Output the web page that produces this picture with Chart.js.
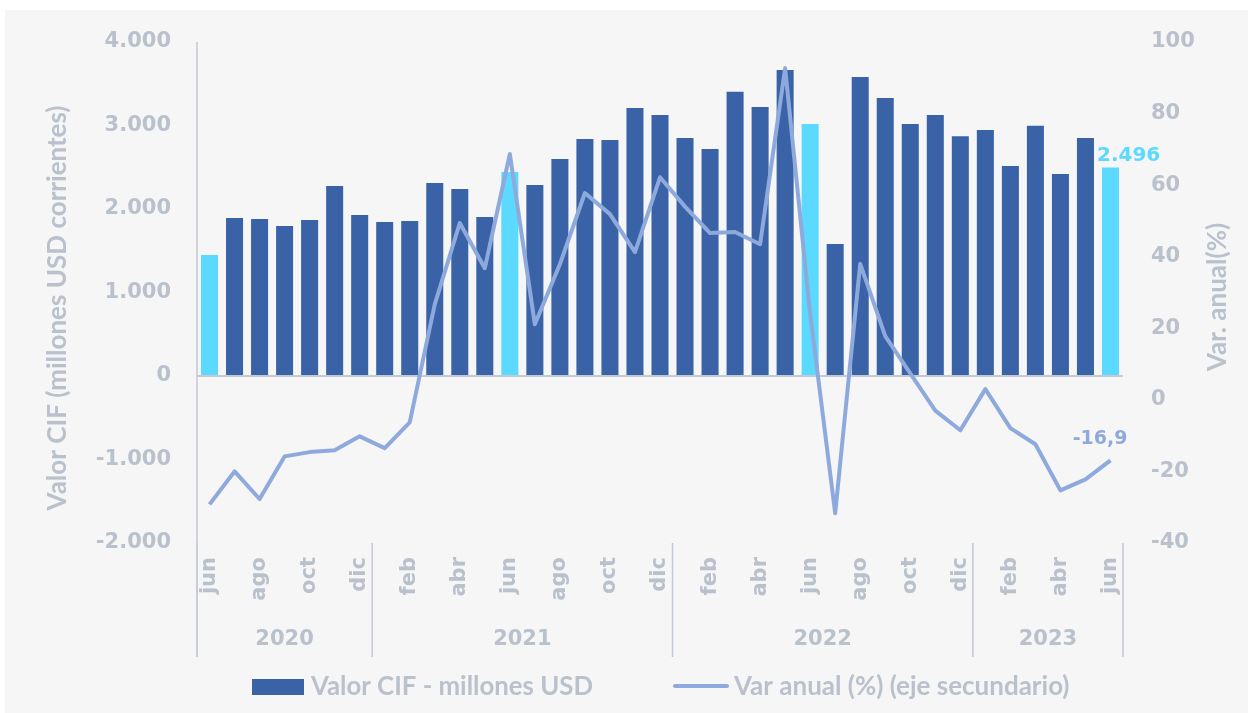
<!DOCTYPE html>
<html>
<head>
<meta charset="utf-8">
<script src="https://cdn.jsdelivr.net/npm/chart.js@4.4.0/dist/chart.umd.min.js"></script>
<style>
  body { margin: 0; background: #ffffff; }
  canvas { display: block; }
</style>
</head>
<body>
<canvas id="chart" width="1248" height="713"></canvas>
<script>
// Datos: jun 2020 - jun 2023
const months = [
  'jun', 'jul', 'ago', 'sep', 'oct', 'nov', 'dic',
  'ene', 'feb', 'mar', 'abr', 'may', 'jun', 'jul', 'ago', 'sep', 'oct', 'nov', 'dic',
  'ene', 'feb', 'mar', 'abr', 'may', 'jun', 'jul', 'ago', 'sep', 'oct', 'nov', 'dic',
  'ene', 'feb', 'mar', 'abr', 'may', 'jun'
];
const years = ['2020', '2021', '2022', '2023'];
const yearFirstIndex = [0, 7, 19, 31];

const valorCIF = [
  1450, 1892, 1880, 1796, 1868, 2275, 1928,
  1844, 1856, 2311, 2240, 1904, 2443, 2287, 2599, 2838, 2826, 3210, 3126,
  2850, 2719, 3405, 3222, 3665, 3018, 1581, 3581, 3329, 3018, 3126, 2870,
  2946, 2515, 2998, 2419, 2850, 2496
];
const varAnual = [
  -29.2, -20.0, -27.7, -15.8, -14.6, -14.1, -10.2,
  -13.5, -6.3, 26.7, 49.4, 36.8, 68.7, 21.1, 37.9, 57.8, 51.9, 41.3, 62.2,
  54.0, 46.6, 46.9, 43.5, 92.7, 24.0, -31.7, 38.0, 17.8, 7.4, -3.0, -8.5,
  3.0, -7.9, -12.4, -25.3, -22.2, -16.9
];

const DARK = '#3a62a7';
const LIGHT = '#5bd9fe';
const LINE = '#8eaadd';
const GREY = '#b9c1cc';
const AXIS = '#c3cad4';

const barColors = months.map(m => m === 'jun' ? LIGHT : DARK);

function fmtMiles(v) {
  const s = Math.abs(v).toString().replace(/\B(?=(\d{3})+(?!\d))/g, '.');
  return (v < 0 ? '-' : '') + s;
}

const extras = {
  id: 'extras',
  beforeDraw(chart) {
    const ctx = chart.ctx;
    ctx.save();
    ctx.fillStyle = '#f6f6f6';
    ctx.fillRect(5, 10, chart.width - 5, chart.height - 10);
    ctx.restore();
  },
  afterDraw(chart) {
    const ctx = chart.ctx;
    const area = chart.chartArea;
    const x = chart.scales.x;
    const bottom = 657;
    ctx.save();

    // eje izquierdo
    ctx.strokeStyle = AXIS;
    ctx.lineWidth = 1.5;
    ctx.beginPath();
    ctx.moveTo(area.left, area.top);
    ctx.lineTo(area.left, bottom);
    ctx.stroke();

    // separadores de años y etiquetas
    const edges = yearFirstIndex.map(i => i === 0 ? area.left
      : (x.getPixelForValue(i - 1) + x.getPixelForValue(i)) / 2);
    edges.push(area.right);
    ctx.beginPath();
    edges.forEach(e => { ctx.moveTo(e, area.bottom); ctx.lineTo(e, bottom); });
    ctx.stroke();

    ctx.fillStyle = GREY;
    ctx.font = 'bold 21px "DejaVu Sans"';
    ctx.textAlign = 'center';
    ctx.textBaseline = 'middle';
    years.forEach((y, i) => {
      ctx.fillText(y, (edges[i] + edges[i + 1]) / 2, 640);
    });

    // títulos de ejes
    ctx.font = 'bold 26px Lato';
    ctx.save();
    ctx.translate(58, 308);
    ctx.rotate(-Math.PI / 2);
    ctx.fillText('Valor CIF (millones USD corrientes)', 0, 0, 412);
    ctx.restore();
    ctx.save();
    ctx.translate(1218, 297);
    ctx.rotate(-Math.PI / 2);
    ctx.fillText('Var. anual(%)', 0, 0, 164);
    ctx.restore();

    // etiquetas de datos del último mes
    const last = months.length - 1;
    const bar = chart.getDatasetMeta(0).data[last];
    ctx.font = 'bold 20px "DejaVu Sans"';
    ctx.fillStyle = LIGHT;
    ctx.textAlign = 'left';
    ctx.fillText(fmtMiles(valorCIF[last]), bar.x - bar.width / 2 - 5, bar.y - 12);
    const pt = chart.getDatasetMeta(1).data[last];
    ctx.font = 'bold 19px "DejaVu Sans"';
    ctx.fillStyle = LINE;
    ctx.textAlign = 'right';
    ctx.fillText(varAnual[last].toFixed(1).replace('.', ','), pt.x + 17, pt.y - 21);

    // leyenda
    const ds = chart.data.datasets;
    ctx.font = 'bold 26px Lato';
    ctx.fillStyle = DARK;
    ctx.fillRect(252, 679, 52, 16);
    ctx.fillStyle = GREY;
    ctx.textAlign = 'left';
    ctx.fillText(ds[0].label, 311, 687, 282);
    ctx.strokeStyle = LINE;
    ctx.lineWidth = 4;
    ctx.lineCap = 'round';
    ctx.beginPath();
    ctx.moveTo(675, 686);
    ctx.lineTo(727, 686);
    ctx.stroke();
    ctx.fillText(ds[1].label, 734, 687, 346);
    ctx.restore();
  }
};

new Chart(document.getElementById('chart'), {
  type: 'bar',
  data: {
    labels: months,
    datasets: [
      {
        label: 'Valor CIF - millones USD',
        data: valorCIF,
        backgroundColor: barColors,
        categoryPercentage: 1,
        barPercentage: 0.68,
        yAxisID: 'y',
        order: 2
      },
      {
        type: 'line',
        label: 'Var anual (%) (eje secundario)',
        data: varAnual,
        borderColor: LINE,
        borderWidth: 4,
        borderJoinStyle: 'round',
        pointRadius: 0,
        tension: 0,
        yAxisID: 'y1',
        order: 1
      }
    ]
  },
  options: {
    responsive: false,
    animation: false,
    layout: { padding: { top: 42, left: 0, right: 0, bottom: 0 } },
    plugins: {
      legend: { display: false },
      tooltip: { enabled: false }
    },
    scales: {
      x: {
        grid: { display: false },
        border: { display: false },
        ticks: {
          autoSkip: false,
          minRotation: 90,
          maxRotation: 90,
          padding: 6,
          color: GREY,
          font: { family: 'DejaVu Sans', size: 21, weight: 'bold' },
          callback: (v, i) => i % 2 === 0 ? months[i] : ''
        },
        afterFit: s => { s.height = 170; }
      },
      y: {
        position: 'left',
        min: -2000,
        max: 4000,
        grid: {
          drawTicks: false,
          lineWidth: 2,
          color: c => c.tick.value === 0 ? AXIS : 'transparent'
        },
        border: { display: false },
        ticks: {
          stepSize: 1000,
          padding: 26,
          color: GREY,
          font: { family: 'DejaVu Sans', size: 21, weight: 'bold' },
          callback: v => fmtMiles(v)
        },
        afterFit: s => { s.width = 197; }
      },
      y1: {
        position: 'right',
        min: -40,
        max: 100,
        grid: { display: false },
        border: { display: false },
        ticks: {
          stepSize: 20,
          padding: 20,
          color: GREY,
          font: { family: 'DejaVu Sans', size: 21, weight: 'bold' }
        },
        afterFit: s => { s.width = 125; }
      }
    }
  },
  plugins: [extras]
});
</script>
</body>
</html>
